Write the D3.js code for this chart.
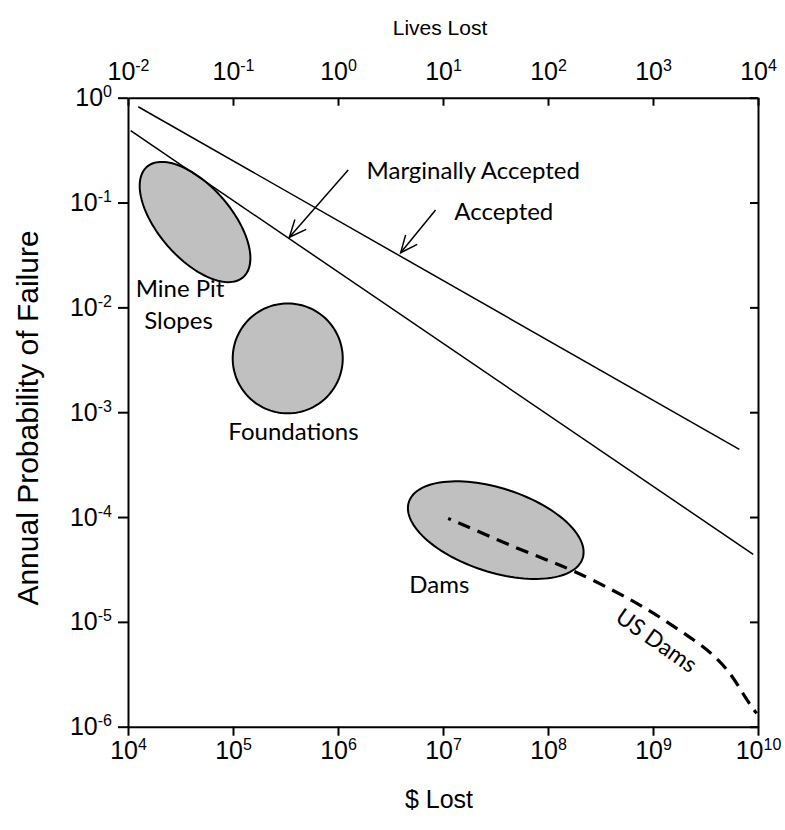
<!DOCTYPE html>
<html><head><meta charset="utf-8">
<script src="https://cdn.jsdelivr.net/npm/d3@7"></script>
<style>body{margin:0;background:#fff}</style>
</head><body>
<svg id="c" width="785" height="830"></svg>
<script>
// ---------- data ----------
const dollarTicks = [1e4, 1e5, 1e6, 1e7, 1e8, 1e9, 1e10];
const livesTicks  = [1e-2, 1e-1, 1e0, 1e1, 1e2, 1e3, 1e4];
const probTicks   = [1e0, 1e-1, 1e-2, 1e-3, 1e-4, 1e-5, 1e-6];

// criteria lines: [$ lost, annual probability]
const acceptedLine = [[1.25e4, 0.82], [6.64e9, 4.42e-4]];
const marginalLine = [[1.06e4, 0.484], [9.0e9, 4.4e-5]];

// US dams curve
const usDamsX = [1.12e7, 2.25e7, 4.68e7, 9.7e7, 1.74e8, 4.19e8, 8.7e8, 1.81e9, 3.75e9, 5.82e9, 7.8e9, 9.7e9];
const usDamsY = [9.7e-5, 7.2e-5, 5.2e-5, 3.9e-5, 3.1e-5, 2.0e-5, 1.34e-5, 8.3e-6, 5.0e-6, 3.0e-6, 1.79e-6, 1.34e-6];

// regions (ellipses in log space: semi-axes in decades, rotation in degrees)
const regionNames   = ["Mine Pit Slopes", "Foundations", "Dams"];
const regionCenterX = [4.35e4, 3.32e5, 3.18e7];
const regionCenterY = [0.0652, 3.26e-3, 7.5e-5];
const regionMajor   = [0.698, 0.524, 0.87];
const regionMinor   = [0.346, 0.524, 0.40];
const regionAngle   = [-49, 0, -18];

// annotation arrows: [from, to]
const arrowFrom = [[1.25e6, 0.204], [8.5e6, 0.0847]];
const arrowTo   = [[3.44e5, 0.0466], [3.95e6, 0.0332]];

// labels: text, $ position, probability position
const labelText = ["Marginally Accepted", "Accepted", "Mine Pit", "Slopes", "Foundations", "Dams"];
const labelX    = [1.87e6, 1.28e7, 3.13e4, 3.03e4, 3.77e5, 4.78e6];
const labelY    = [0.168, 0.0688, 0.01254, 6.2e-3, 5.42e-4, 1.88e-5];
const usDamsLabel = {text: "US Dams", x: 9.77e8, y: 5.74e-6};

// ---------- layout ----------
const L = 128, R = 758, T = 97.7, B = 726.7;
const svg = d3.select("#c");
const x = d3.scaleLog().domain([1e4, 1e10]).range([L, R]);
const xTop = d3.scaleLog().domain([1e-2, 1e4]).range([L, R]);
const y = d3.scaleLog().domain([1, 1e-6]).range([T, B]);

const tickFont = "'Liberation Sans Narrow', 'Arial Narrow', 'Liberation Sans', Arial, sans-serif";
const axisFont = "'Liberation Sans', Arial, sans-serif";
const noteFont = "Lato, 'Open Sans', sans-serif";

function supLabels(g, size, supSize, rise) {
  g.attr("font-size", size).attr("font-family", tickFont);
  g.selectAll(".tick text").each(function(d) {
    const e = Math.round(Math.log10(d));
    const t = d3.select(this);
    t.text(null).attr("fill", "#000");
    t.append("tspan").text("10");
    t.append("tspan").attr("font-size", supSize).attr("dy", -rise).text(e);
  });
}
function styleAxis(g) {
  g.selectAll("path.domain").attr("stroke", "#000").attr("stroke-width", 2);
  g.selectAll(".tick line").attr("stroke", "#000").attr("stroke-width", 2);
}

// bottom axis
const gB = svg.append("g").attr("transform", `translate(0,${B})`)
  .call(d3.axisBottom(x).tickValues(dollarTicks).tickSize(9).tickSizeOuter(0).tickPadding(6));
styleAxis(gB); supLabels(gB, 25, 16, 9);
// top axis
const gT = svg.append("g").attr("transform", `translate(0,${T})`)
  .call(d3.axisTop(xTop).tickValues(livesTicks).tickSize(-8).tickSizeOuter(0).tickPadding(18));
styleAxis(gT); supLabels(gT, 25, 16, 9);
// left axis
const gL = svg.append("g").attr("transform", `translate(${L},0)`)
  .call(d3.axisLeft(y).tickValues(probTicks).tickSize(10).tickSizeOuter(0).tickPadding(6));
styleAxis(gL); supLabels(gL, 25, 16, 9);
// right axis
const gR = svg.append("g").attr("transform", `translate(${R},0)`)
  .call(d3.axisRight(y).tickValues(probTicks).tickSize(-8).tickSizeOuter(0).tickFormat(""));
styleAxis(gR);

// axis titles
svg.append("text").attr("x", 440).attr("y", 35).attr("text-anchor", "middle")
  .attr("font-family", axisFont).attr("font-size", 21).text("Lives Lost");
svg.append("text").attr("x", 439).attr("y", 808).attr("text-anchor", "middle")
  .attr("font-family", axisFont).attr("font-size", 25).text("$ Lost");
svg.append("text").attr("transform", `translate(38,418) rotate(-90)`).attr("text-anchor", "middle")
  .attr("font-family", axisFont).attr("font-size", 30).text("Annual Probability of Failure");

// regions
const ell = i => d3.range(0, 361, 3).map(a => {
  const t = a * Math.PI / 180, th = regionAngle[i] * Math.PI / 180;
  const u = regionMajor[i] * Math.cos(t), v = regionMinor[i] * Math.sin(t);
  const dx = u * Math.cos(th) - v * Math.sin(th), dy = u * Math.sin(th) + v * Math.cos(th);
  return [regionCenterX[i] * Math.pow(10, dx), regionCenterY[i] * Math.pow(10, dy)];
});
const lineGen = d3.line().x(d => x(d[0])).y(d => y(d[1]));
svg.append("g").selectAll("path").data(regionNames).join("path")
  .attr("d", (d, i) => lineGen.curve(d3.curveLinearClosed)(ell(i)))
  .attr("fill", "#c0c0c0").attr("stroke", "#000").attr("stroke-width", 2);

// criteria lines
lineGen.curve(d3.curveLinear);
[acceptedLine, marginalLine].forEach(l => svg.append("path").attr("d", lineGen(l))
  .attr("fill", "none").attr("stroke", "#000").attr("stroke-width", 1.5));

// US dams dashed
const dams = usDamsX.map((v, i) => [v, usDamsY[i]]);
svg.append("path").attr("d", d3.line().x(d => x(d[0])).y(d => y(d[1])).curve(d3.curveBasis)(dams))
  .attr("fill", "none").attr("stroke", "#000").attr("stroke-width", 3.2)
  .attr("stroke-dasharray", "13,8").attr("stroke-dashoffset", 10);

// arrows
svg.append("defs").append("marker").attr("id", "ah").attr("markerUnits", "userSpaceOnUse")
  .attr("viewBox", "-20 -10 22 20").attr("refX", 0).attr("refY", 0)
  .attr("markerWidth", 22).attr("markerHeight", 20).attr("orient", "auto")
  .append("path").attr("d", "M-17,-7.5L0,0L-17,7.5").attr("fill", "none").attr("stroke", "#000").attr("stroke-width", 1.5);
arrowFrom.forEach((f, i) => svg.append("line")
  .attr("x1", x(f[0])).attr("y1", y(f[1])).attr("x2", x(arrowTo[i][0])).attr("y2", y(arrowTo[i][1]))
  .attr("stroke", "#000").attr("stroke-width", 1.5).attr("marker-end", "url(#ah)"));

// labels
const anchors = ["start", "start", "middle", "middle", "middle", "start"];
svg.append("g").selectAll("text").data(labelText).join("text")
  .attr("x", (d, i) => x(labelX[i])).attr("y", (d, i) => y(labelY[i]))
  .attr("text-anchor", (d, i) => anchors[i])
  .attr("font-family", noteFont).attr("font-size", 24).text(d => d);
svg.append("text").attr("transform", `translate(${x(usDamsLabel.x)},${y(usDamsLabel.y)}) rotate(35)`)
  .attr("text-anchor", "middle").attr("font-family", noteFont).attr("font-size", 23).text(usDamsLabel.text);
</script>
</body></html>
